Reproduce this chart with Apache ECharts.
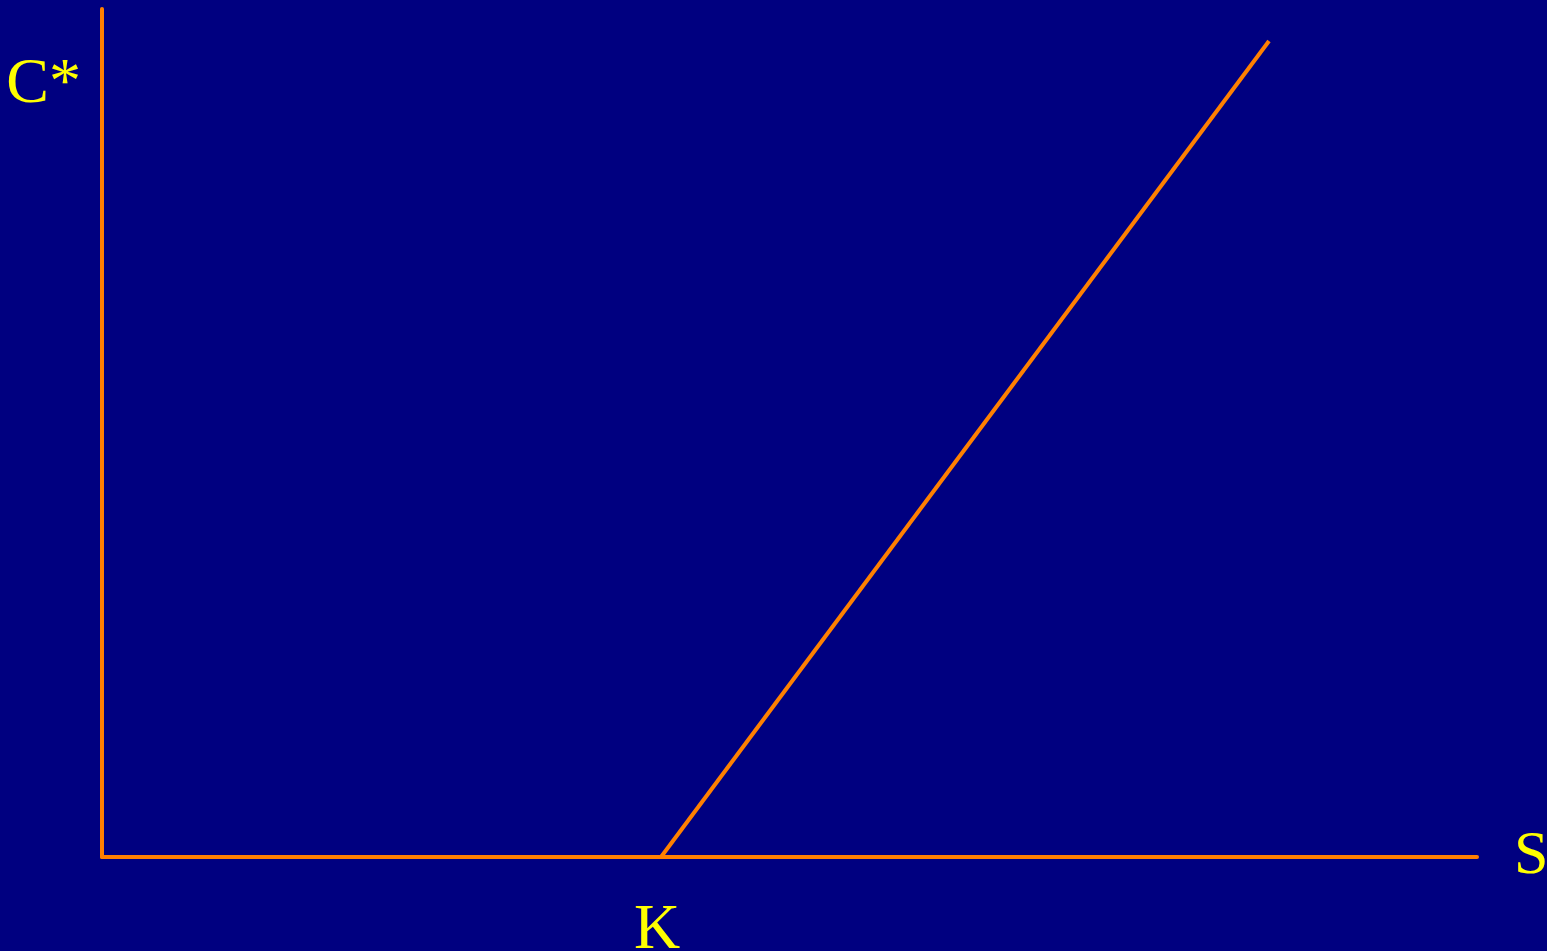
<!DOCTYPE html>
<html>
<head>
<meta charset="utf-8">
<script src="https://cdn.jsdelivr.net/npm/echarts@6/dist/echarts.min.js"></script>
<style>
  html, body { margin: 0; padding: 0; background: #000080; }
  #chart { width: 1547px; height: 951px; }
</style>
</head>
<body>
<div id="chart"></div>
<script>
// payoff diagram, values in axis units
var stockPrices = [559, 1167];
var callValues = [0, 816];
var strike = 559;
var xMax = 1375;
var yMax = 848;

var orange = '#ff8000';
var yellow = '#ffff00';
var serif = '"Liberation Serif", "Times New Roman", serif';

var chart = echarts.init(document.getElementById('chart'));
chart.setOption({
    backgroundColor: '#000080',
    animation: false,
    grid: { left: 102, right: 70, top: 9, bottom: 94, outerBoundsMode: 'none', containLabel: false },
    xAxis: {
        type: 'value',
        min: 0,
        max: xMax,
        name: 'S',
        nameLocation: 'end',
        nameGap: 37,
        nameTextStyle: { color: yellow, fontFamily: serif, fontSize: 62, verticalAlign: 'middle', padding: [0, 0, 40, 0] },
        axisLine: { lineStyle: { color: orange, width: 4 } },
        axisTick: { show: false },
        splitLine: { show: false },
        axisLabel: {
            customValues: [strike],
            formatter: function () { return 'K'; },
            color: yellow,
            fontFamily: serif,
            fontSize: 64,
            margin: 42,
            padding: [0, 8, 0, 0]
        }
    },
    yAxis: {
        type: 'value',
        min: 0,
        max: yMax,
        name: 'C*',
        nameLocation: 'end',
        nameGap: -76,
        nameTextStyle: { color: yellow, fontFamily: serif, fontSize: 64, align: 'right', verticalAlign: 'middle', padding: [0, 21, 0, 0] },
        axisLine: { show: true, lineStyle: { color: orange, width: 4 } },
        axisTick: { show: false },
        axisLabel: { show: false },
        splitLine: { show: false }
    },
    series: [{
        type: 'line',
        data: stockPrices.map(function (s, i) { return [s, callValues[i]]; }),
        showSymbol: false,
        lineStyle: { color: orange, width: 4 }
    }]
});
</script>
</body>
</html>
